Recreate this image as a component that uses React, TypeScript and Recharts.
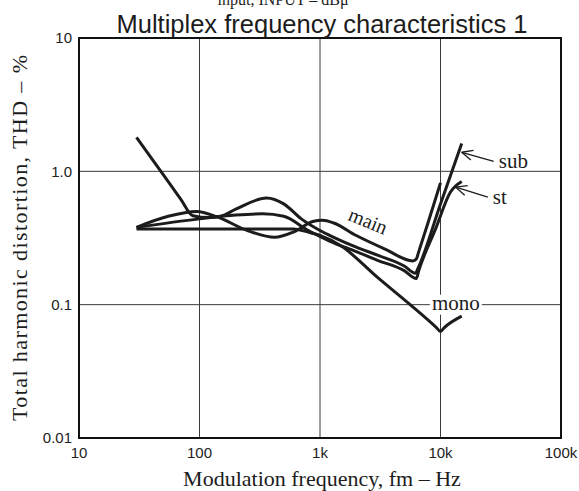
import React from 'react';
import {
  ComposedChart,
  Line,
  XAxis,
  YAxis,
  CartesianGrid,
  ReferenceArea,
  ReferenceDot
} from 'recharts';

// axis ticks
const xTicks = [10, 100, 1000, 10000, 100000];
const xTickLabels = ['10', '100', '1k', '10k', '100k'];
const yTicks = [0.01, 0.1, 1, 10];
const yTickLabels = ['0.01', '0.1', '1.0', '10'];

// curves (Hz, THD %)
const mainFreq = [30, 55, 95, 140, 250, 420, 600, 870, 1050, 1300, 2000, 3500, 5900, 6300, 6600, 8000, 10000];
const mainThd = [0.38, 0.46, 0.5, 0.455, 0.36, 0.32, 0.35, 0.42, 0.43, 0.41, 0.33, 0.26, 0.213, 0.22, 0.25, 0.43, 0.82];

const subFreq = [30, 50, 70, 88, 120, 150, 200, 360, 500, 700, 1000, 1300, 2000, 3000, 5000, 6200, 6500, 10000, 15000];
const subThd = [1.8, 0.944, 0.617, 0.465, 0.45, 0.46, 0.52, 0.63, 0.57, 0.44, 0.36, 0.32, 0.27, 0.235, 0.195, 0.172, 0.187, 0.57, 1.62];

const stFreq = [30, 100, 200, 335, 500, 800, 1200, 2000, 3000, 5000, 6300, 6600, 9100, 12100, 15000];
const stThd = [0.38, 0.44, 0.47, 0.48, 0.46, 0.36, 0.3, 0.25, 0.215, 0.18, 0.157, 0.18, 0.37, 0.7, 0.84];

const monoFreq = [30, 300, 600, 800, 1000, 1500, 3000, 5600, 9300, 10000, 10700, 15000];
const monoThd = [0.37, 0.37, 0.37, 0.35, 0.33, 0.275, 0.16, 0.1, 0.067, 0.063, 0.067, 0.082];

const toPoints = (fs: number[], vs: number[]) => fs.map((f, i) => ({ f, v: vs[i] }));

const serif = '"Liberation Serif", "Times New Roman", serif';
const sans = '"Liberation Sans", Arial, sans-serif';
const ink = '#1c1c1c';

// arrow pointing at a curve, tail going off to the right where the label sits
const arrowLabel = (text: string, tx: number, ty: number) => (props: any) => {
  const { cx, cy } = props;
  const len = Math.hypot(tx, ty);
  const dx = tx / len, dy = ty / len;
  const a = (25 * Math.PI) / 180;
  const w1 = [dx * Math.cos(a) - dy * Math.sin(a), dx * Math.sin(a) + dy * Math.cos(a)];
  const w2 = [dx * Math.cos(a) + dy * Math.sin(a), -dx * Math.sin(a) + dy * Math.cos(a)];
  return (
    <g stroke={ink} strokeWidth={1.3} fill="none">
      <line x1={cx} y1={cy} x2={cx + tx} y2={cy + ty} />
      <line x1={cx} y1={cy} x2={cx + w1[0] * 12} y2={cy + w1[1] * 12} />
      <line x1={cx} y1={cy} x2={cx + w2[0] * 12} y2={cy + w2[1] * 12} />
      <text x={cx + tx + 5} y={cy + ty + 7} fill={ink} stroke="none" fontFamily={serif} fontSize={21}>
        {text}
      </text>
    </g>
  );
};

const MonoLabel = (props: any) => {
  const { cx, cy } = props;
  return (
    <g>
      <rect x={cx - 26} y={cy - 10} width={52} height={20} fill="#fff" />
      <text x={cx} y={cy + 5} textAnchor="middle" fill={ink} fontFamily={serif} fontSize={21}>
        mono
      </text>
    </g>
  );
};

const MainLabel = (props: any) => {
  const { cx, cy } = props;
  return (
    <text
      x={0}
      y={0}
      transform={`translate(${cx},${cy}) rotate(22)`}
      textAnchor="middle"
      fill={ink}
      fontFamily={serif}
      fontSize={20}
    >
      main
    </text>
  );
};

export default function App() {
  const W = 579;
  const H = 491;
  return (
    <div style={{ position: 'absolute', left: 0, top: 0, width: W, height: H, background: '#fff' }}>
      <ComposedChart width={W} height={H} margin={{ top: 38, right: 18, left: 0, bottom: 0 }}>
        <CartesianGrid stroke="#3a3a3a" strokeWidth={1} />
        <XAxis
          dataKey="f"
          type="number"
          scale="log"
          domain={[10, 100000]}
          ticks={xTicks}
          tickFormatter={(v: number) => xTickLabels[xTicks.indexOf(v)] ?? String(v)}
          allowDataOverflow
          height={53}
          tickSize={0}
          tickMargin={9}
          axisLine={false}
          tick={{ fill: '#222', fontSize: 15, fontFamily: sans }}
        />
        <YAxis
          dataKey="v"
          type="number"
          scale="log"
          domain={[0.01, 10]}
          ticks={yTicks}
          tickFormatter={(v: number) => yTickLabels[yTicks.indexOf(v)] ?? String(v)}
          allowDataOverflow
          width={79}
          tickSize={0}
          tickMargin={7}
          axisLine={false}
          tick={{ fill: '#222', fontSize: 15, fontFamily: sans }}
        />
        <ReferenceArea x1={10} x2={100000} y1={0.01} y2={10} fill="none" stroke="#111" strokeWidth={2} />

        <Line data={toPoints(monoFreq, monoThd)} dataKey="v" type="monotone" stroke={ink} strokeWidth={3} dot={false} isAnimationActive={false} />
        <Line data={toPoints(stFreq, stThd)} dataKey="v" type="monotone" stroke={ink} strokeWidth={3} dot={false} isAnimationActive={false} />
        <Line data={toPoints(subFreq, subThd)} dataKey="v" type="monotone" stroke={ink} strokeWidth={3} dot={false} isAnimationActive={false} />
        <Line data={toPoints(mainFreq, mainThd)} dataKey="v" type="monotone" stroke={ink} strokeWidth={3} dot={false} isAnimationActive={false} />

        <ReferenceDot x={13400} y={0.1} r={0} shape={MonoLabel} />
        <ReferenceDot x={2390} y={0.38} r={0} shape={MainLabel} />
        <ReferenceDot x={15000} y={1.39} r={0} shape={arrowLabel('sub', 32, 9)} />
        <ReferenceDot x={13400} y={0.76} r={0} shape={arrowLabel('st', 32, 10)} />
      </ComposedChart>

      <svg width={W} height={H} style={{ position: 'absolute', left: 0, top: 0, pointerEvents: 'none' }}>
        <text x={283} y={5} textAnchor="middle" fill={ink} fontFamily={serif} fontSize={16}>
          input, INPUT – dBμ
        </text>
        <text x={322} y={33} textAnchor="middle" fill={ink} fontFamily={sans} fontSize={25.5}>
          Multiplex frequency characteristics 1
        </text>
        <text x={322} y={486} textAnchor="middle" fill={ink} fontFamily={serif} fontSize={22}>
          Modulation frequency, fm – Hz
        </text>
        <text
          transform="translate(27,238) rotate(-90)"
          textAnchor="middle"
          fill={ink}
          fontFamily={serif}
          fontSize={22}
          textLength={366}
          lengthAdjust="spacing"
        >
          Total harmonic distortion, THD – %
        </text>
      </svg>
    </div>
  );
}
